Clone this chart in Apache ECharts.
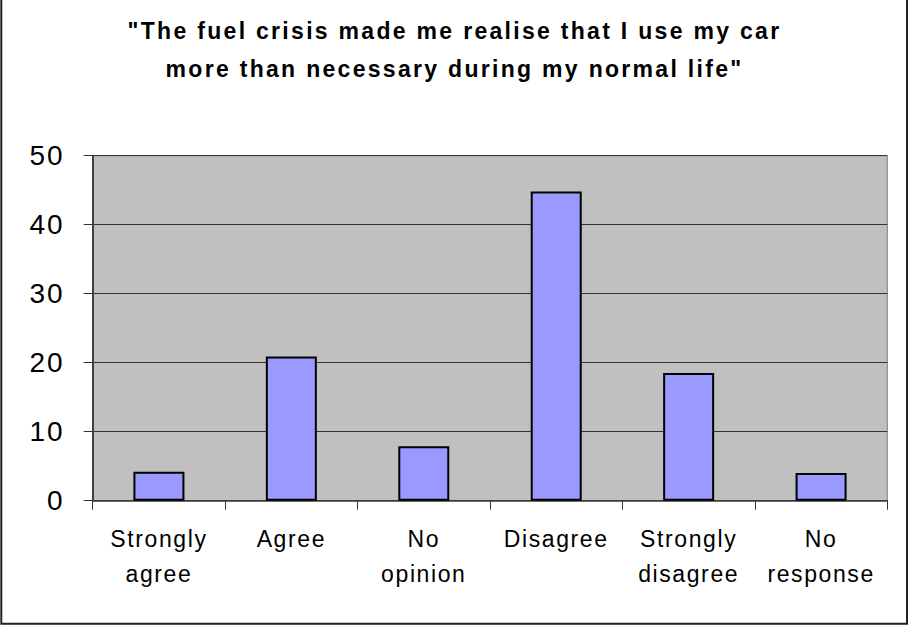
<!DOCTYPE html>
<html>
<head>
<meta charset="utf-8">
<script src="https://cdn.jsdelivr.net/npm/echarts@6/dist/echarts.min.js"></script>
<style>
  html, body { margin: 0; padding: 0; background: #fff; }
  #chart { width: 909px; height: 626px; }
  #chart svg text { letter-spacing: 1.6px; }
  #chart svg text[style*="bold"] { letter-spacing: 2.3px; }
  #chart svg text[style*="28px"] { letter-spacing: 2px; }
</style>
</head>
<body>
<div id="chart"></div>
<script>
const titleText = '"The fuel crisis made me realise that I use my car\nmore than necessary during my normal life"';
const categories = ['Strongly\nagree', 'Agree', 'No\nopinion', 'Disagree', 'Strongly\ndisagree', 'No\nresponse'];
const values = [4.2, 20.9, 7.9, 44.8, 18.5, 4.0];
const yMin = 0, yMax = 50, yStep = 10;

const chart = echarts.init(document.getElementById('chart'), null, { renderer: 'svg' });
chart.setOption({
  animation: false,
  backgroundColor: '#ffffff',
  title: {
    text: titleText,
    left: 'center',
    top: 12,
    padding: 0,
    textStyle: {
      fontFamily: 'Arial, "Liberation Sans", sans-serif',
      fontSize: 23,
      fontWeight: 'bold',
      color: '#000',
      lineHeight: 38
    }
  },
  grid: {
    left: 92.7, right: 21.7, top: 155.7, bottom: 125.3,
    show: true,
    backgroundColor: '#C0C0C0',
    borderColor: '#808080',
    borderWidth: 1
  },
  xAxis: {
    type: 'category',
    data: categories,
    boundaryGap: true,
    axisLine: { show: true, lineStyle: { color: '#404040', width: 1.5 } },
    axisTick: { show: true, alignWithLabel: false, interval: 0, length: 9, lineStyle: { color: '#333', width: 1 } },
    axisLabel: {
      interval: 0,
      margin: 21,
      color: '#000',
      fontFamily: 'Arial, "Liberation Sans", sans-serif',
      fontSize: 23,
      lineHeight: 35
    },
    splitLine: { show: false }
  },
  yAxis: {
    type: 'value',
    min: yMin, max: yMax, interval: yStep,
    axisLine: { show: true, lineStyle: { color: '#404040', width: 2 } },
    axisTick: { show: true, length: 9, lineStyle: { color: '#333', width: 1 } },
    axisLabel: {
      margin: 28,
      color: '#000',
      fontFamily: 'Arial, "Liberation Sans", sans-serif',
      fontSize: 28
    },
    splitLine: { show: true, lineStyle: { color: '#333', width: 1 } }
  },
  series: [{
    type: 'bar',
    data: values,
    barWidth: 51,
    itemStyle: { color: '#9999FF', borderColor: '#000', borderWidth: 2 }
  }],
  graphic: [{
    type: 'rect',
    shape: { x: 1.3, y: -10, width: 905.7, height: 633.8 },
    style: { fill: 'none', stroke: '#222', lineWidth: 2 },
    silent: true,
    z: 100
  }]
});
</script>
</body>
</html>
